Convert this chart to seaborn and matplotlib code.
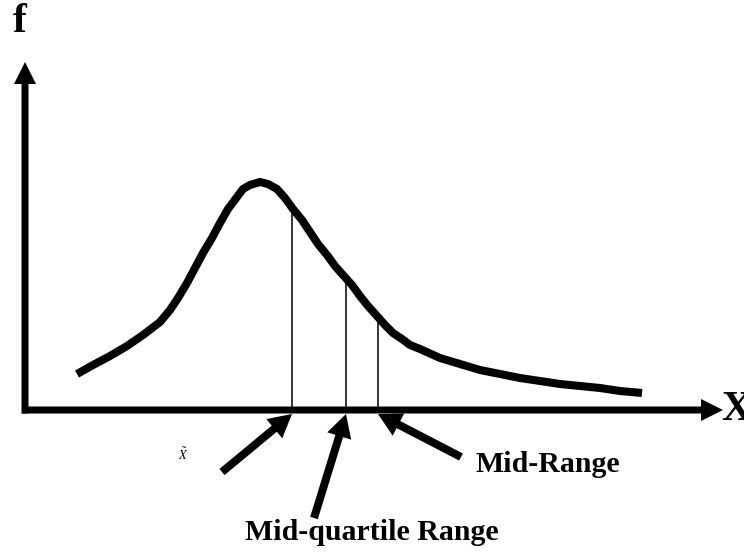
import numpy as np
import matplotlib
matplotlib.use("Agg")
import matplotlib.pyplot as plt
import seaborn as sns

# curve (x position, height f above the x axis)
curve_x = [77, 93, 110, 127, 143, 160, 170, 178, 187, 195, 203, 212, 220, 228, 237,
           243, 250, 260, 268, 277, 285, 293, 302, 310, 318, 327, 335, 343, 352, 360,
           368, 377, 385, 393, 402, 410, 420, 440, 460, 480, 500, 520, 540, 560, 580,
           600, 620, 642]
curve_f = [36, 45, 54, 64, 75, 88, 100, 112, 127, 142, 157, 172, 187, 201, 213,
           221, 225, 228, 226, 221, 212, 201, 190, 178, 166, 155, 144, 135, 125, 114,
           104, 94, 85, 77, 71, 65, 61, 52, 46, 40, 36, 32, 29, 26, 24,
           22, 19, 17]

# location measures marked on the axis
stat_names = ["median", "mid-quartile range", "mid-range"]
stat_x = [292, 346, 378]
stat_f = [202, 131, 95]

# annotation labels
label_text = [r"$\tilde{X}$", "Mid-quartile Range", "Mid-Range"]
label_x = [183, 372, 548]
label_y = [-45, -123, -55]
arrow_tail_x = [222, 314, 461]
arrow_tail_y = [-62, -108, -47]

sns.set_style("white")
plt.rcParams["font.family"] = ["Liberation Serif", "DejaVu Serif"]
plt.rcParams["mathtext.fontset"] = "stix"
plt.rcParams["text.color"] = "black"

fig = plt.figure(figsize=(7.44, 5.52), dpi=100)
ax = fig.add_axes([0, 0, 1, 1])
ax.set_xlim(0, 744)
ax.set_ylim(-142, 410)
ax.axis("off")

# axes drawn as arrows
ax.arrow(22, 0, 701, 0, width=7, head_width=22, head_length=22,
         length_includes_head=True, color="black", lw=0)
ax.arrow(25, -3.5, 0, 351.5, width=7, head_width=22, head_length=22,
         length_includes_head=True, color="black", lw=0)
ax.text(13, 388, "f", fontsize=30, fontweight="bold", ha="left", va="center",
        color="black")
ax.text(721, 0, "X", fontsize=30, fontweight="bold", ha="left", va="center",
        color="black")

sns.lineplot(x=curve_x, y=curve_f, sort=False, color="black", linewidth=5.8,
             ax=ax, solid_capstyle="butt", solid_joinstyle="round")

ax.vlines(stat_x, 0, stat_f, color="black", linewidth=1.1)

for i in range(3):
    dx = stat_x[i] - arrow_tail_x[i]
    dy = -4 - arrow_tail_y[i]
    ax.arrow(arrow_tail_x[i], arrow_tail_y[i], dx, dy, width=8, head_width=25,
             head_length=23, length_includes_head=True, color="black", lw=0)

ax.text(label_x[0], label_y[0], label_text[0], fontsize=9, ha="center", va="center",
        color="black")
ax.text(label_x[1], label_y[1], label_text[1], fontsize=21.5, fontweight="bold",
        ha="center", va="center", color="black")
ax.text(label_x[2], label_y[2], label_text[2], fontsize=21.5, fontweight="bold",
        ha="center", va="center", color="black")

fig.savefig("out.png", dpi=100)
